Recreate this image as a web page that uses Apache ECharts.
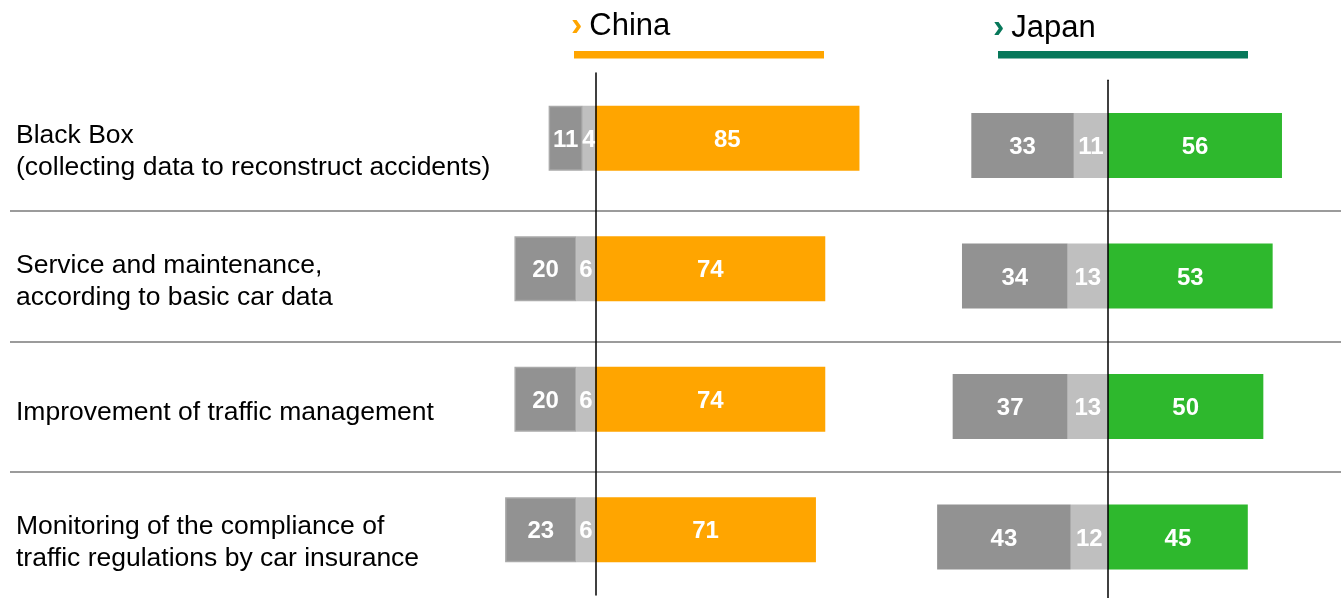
<!DOCTYPE html>
<html>
<head>
<meta charset="utf-8">
<script src="https://cdn.jsdelivr.net/npm/echarts@6/dist/echarts.min.js"></script>
<style>
  html, body { margin: 0; padding: 0; background: #fff; }
  #chart { width: 1341px; height: 598px; }
</style>
</head>
<body>
<div id="chart"></div>
<script>
const categories = [
  'Black Box\n(collecting data to reconstruct accidents)',
  'Service and maintenance,\naccording to basic car data',
  'Improvement of traffic management',
  'Monitoring of the compliance of\ntraffic regulations by car insurance'
]
const chinaDark = [11, 20, 20, 23]
const chinaLight = [4, 6, 6, 6]
const chinaPositive = [85, 74, 74, 71]
const japanDark = [33, 34, 37, 43]
const japanLight = [11, 13, 13, 12]
const japanPositive = [56, 53, 50, 45]

const FONT = '"Liberation Sans", Arial, sans-serif'
const DARK = '#929292'
const LIGHT = '#bfbfbf'
const ORANGE = '#ffa500'
const GREEN = '#2eb82d'
const TEAL = '#07785a'

const neg = arr => arr.map(v => -v)

const valueLabel = {
  show: true,
  position: 'inside',
  color: '#fff',
  fontWeight: 'bold',
  fontSize: 24,
  fontFamily: FONT,
  offset: [0, 2],
  formatter: p => Math.abs(p.value)
}

function panelAxis(idx) {
  return {
    type: 'category',
    gridIndex: idx,
    data: categories,
    inverse: true,
    z: 5,
    axisTick: { show: false },
    axisLabel: { show: false },
    axisLine: { show: true, onZero: true, lineStyle: { color: '#000', width: 1.5 } }
  }
}

function bar(name, idx, stack, data, color, extra) {
  return {
    name: name,
    type: 'bar',
    xAxisIndex: idx,
    yAxisIndex: idx,
    stack: stack,
    data: data,
    barWidth: 65,
    itemStyle: Object.assign({ color: color }, extra || {}),
    label: valueLabel
  }
}

function title(text, color, left, top) {
  return {
    left: left,
    top: top,
    padding: 0,
    text: '{c|›}{t|' + text + '}',
    textStyle: {
      fontWeight: 'normal',
      rich: {
        c: { color: color, fontSize: 34, fontWeight: 'bold', fontFamily: FONT },
        t: { color: '#000', fontSize: 31, fontWeight: 'normal', fontFamily: FONT, padding: [0, 0, 0, 7] }
      }
    }
  }
}

const chart = echarts.init(document.getElementById('chart'))
chart.setOption({
  animation: false,
  textStyle: { fontFamily: FONT },
  title: [title('China', ORANGE, 571, 9), title('Japan', TEAL, 993, 11)],
  graphic: [
    { type: 'rect', shape: { x: 574, y: 51, width: 250, height: 7.5 }, style: { fill: ORANGE } },
    { type: 'rect', shape: { x: 998, y: 51, width: 250, height: 7.5 }, style: { fill: TEAL } }
  ],
  grid: [
    // row separators
    { left: 10, right: 0, top: 80.5, height: 522, outerBoundsMode: 'none' },
    // China
    { left: 502, width: 373, top: 73, height: 522, outerBoundsMode: 'none' },
    // Japan
    { left: 921.6, width: 372.8, top: 80.2, height: 522, outerBoundsMode: 'none' },
    // row labels
    { left: 10, right: 0, top: 86, height: 522, outerBoundsMode: 'none' }
  ],
  xAxis: [
    { type: 'value', gridIndex: 0, min: 0, max: 1, show: false },
    { type: 'value', gridIndex: 1, min: -30, max: 90, show: false },
    { type: 'value', gridIndex: 2, min: -60, max: 60, show: false },
    { type: 'value', gridIndex: 3, min: 0, max: 1, show: false }
  ],
  yAxis: [{
    type: 'category',
    gridIndex: 0,
    data: categories,
    inverse: true,
    axisLine: { show: false },
    axisTick: { show: false },
    axisLabel: { show: false },
    splitLine: {
      show: true,
      interval: idx => idx > 0,
      lineStyle: { color: '#7a7a7a', width: 1.5 }
    }
  }, panelAxis(1), panelAxis(2), {
    type: 'category',
    gridIndex: 3,
    data: categories,
    inverse: true,
    axisLine: { show: false },
    axisTick: { show: false },
    splitLine: { show: false },
    axisLabel: {
      inside: true,
      margin: 6,
      align: 'left',
      color: '#000',
      fontSize: 26.5,
      lineHeight: 32,
      fontFamily: FONT
    }
  }],
  series: [
    bar('China neutral', 1, 'china', neg(chinaLight), LIGHT),
    bar('China no', 1, 'china', neg(chinaDark), DARK, { borderColor: '#a9a9a9', borderWidth: 1.5 }),
    bar('China yes', 1, 'china', chinaPositive, ORANGE),
    bar('Japan neutral', 2, 'japan', neg(japanLight), LIGHT),
    bar('Japan no', 2, 'japan', neg(japanDark), DARK),
    bar('Japan yes', 2, 'japan', japanPositive, GREEN)
  ]
})
</script>
</body>
</html>
